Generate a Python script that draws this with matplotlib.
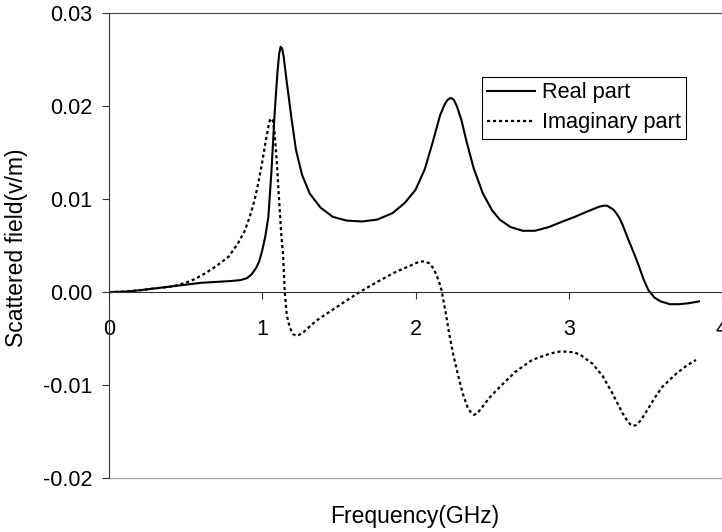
import numpy as np
import matplotlib
matplotlib.use("Agg")
import matplotlib.pyplot as plt
from matplotlib.ticker import FormatStrFormatter

plt.rcParams['font.family'] = ['Liberation Sans', 'DejaVu Sans']
plt.rcParams['axes.unicode_minus'] = False

# frequency (GHz) / field (v/m)
freq_real = [0.00, 0.10, 0.20, 0.30, 0.40, 0.50, 0.60, 0.70, 0.80, 0.86,
             0.90, 0.93, 0.96, 0.98, 1.00, 1.02, 1.04, 1.06, 1.07, 1.08,
             1.09, 1.10, 1.11, 1.12, 1.13, 1.14, 1.16, 1.19, 1.22, 1.26,
             1.31, 1.38, 1.46, 1.55, 1.65, 1.75, 1.85, 1.93, 2.00, 2.06,
             2.11, 2.16, 2.19, 2.21, 2.23, 2.25, 2.27, 2.30, 2.33, 2.38,
             2.44, 2.50, 2.55, 2.62, 2.70, 2.78, 2.87, 2.96, 3.04, 3.11,
             3.17, 3.20, 3.23, 3.25, 3.27, 3.29, 3.31, 3.33, 3.35, 3.39,
             3.43, 3.46, 3.49, 3.52, 3.56, 3.60, 3.66, 3.72, 3.78, 3.85]
real_part = [0.0000, 0.00005, 0.0002, 0.0004, 0.0006, 0.0008, 0.0010, 0.0011, 0.0012, 0.0013,
             0.0015, 0.0019, 0.0026, 0.0033, 0.0045, 0.0060, 0.0081, 0.0130, 0.0160, 0.0190,
             0.0215, 0.0238, 0.0256, 0.0264, 0.0262, 0.0253, 0.0226, 0.0188, 0.0153, 0.0126,
             0.0106, 0.0091, 0.0081, 0.0077, 0.0076, 0.0078, 0.0085, 0.0096, 0.0110, 0.0132,
             0.0160, 0.0190, 0.0202, 0.0207, 0.0209, 0.0207, 0.0200, 0.0185, 0.0164, 0.0133,
             0.0106, 0.0088, 0.0078, 0.0070, 0.0066, 0.0066, 0.0070, 0.0076, 0.0081, 0.0086,
             0.0090, 0.0092, 0.0093, 0.0093, 0.0091, 0.0089, 0.0085, 0.0080, 0.0073, 0.0056,
             0.0040, 0.0027, 0.0013, 0.0002, -0.0006, -0.0010, -0.0013, -0.0013, -0.0012, -0.0010]

freq_imag = [0.00, 0.10, 0.20, 0.30, 0.41, 0.50, 0.56, 0.625, 0.70, 0.78,
             0.84, 0.886, 0.92, 0.95, 0.975, 1.00, 1.02, 1.04, 1.05, 1.06,
             1.07, 1.08, 1.095, 1.11, 1.125, 1.136, 1.147, 1.16, 1.18, 1.20,
             1.22, 1.24, 1.27, 1.35, 1.45, 1.55, 1.635, 1.75, 1.874, 1.96,
             2.00, 2.03, 2.06, 2.09, 2.11, 2.13, 2.15, 2.17, 2.20, 2.22,
             2.25, 2.28, 2.31, 2.34, 2.36, 2.38, 2.40, 2.43, 2.48, 2.55,
             2.65, 2.76, 2.88, 2.94, 2.99, 3.04, 3.08, 3.155, 3.22, 3.285,
             3.35, 3.38, 3.40, 3.42, 3.44, 3.47, 3.52, 3.56, 3.61, 3.70,
             3.77, 3.83]
imag_part = [0.0, 0.00005, 0.0002, 0.0004, 0.0006, 0.0010, 0.0014, 0.0020, 0.0028, 0.0038,
             0.0052, 0.0066, 0.0082, 0.0099, 0.0118, 0.0140, 0.0160, 0.0178, 0.0185, 0.0187,
             0.0184, 0.0172, 0.0140, 0.0099, 0.0060, 0.0040, 0.0, -0.0025, -0.0038, -0.0045,
             -0.0047, -0.0046, -0.0043, -0.0031, -0.0020, -0.0009, 0.0, 0.0011, 0.0022, 0.0028,
             0.0031, 0.0033, 0.0033, 0.0031, 0.0027, 0.0021, 0.0013, 0.0002, -0.0025, -0.0045,
             -0.0070, -0.0091, -0.0110, -0.0124, -0.0129, -0.0132, -0.0131, -0.0125, -0.0114, -0.0102,
             -0.0086, -0.0073, -0.0066, -0.0064, -0.0064, -0.0065, -0.0068, -0.0077, -0.0090, -0.0109,
             -0.0130, -0.0138, -0.0142, -0.0144, -0.0143, -0.0138, -0.0125, -0.0114, -0.0102, -0.0088,
             -0.0079, -0.0073]

x_ticks = [0, 1, 2, 3, 4]
y_ticks = [-0.02, -0.01, 0.00, 0.01, 0.02, 0.03]

fig = plt.figure(figsize=(7.22, 5.32), dpi=100)
ax = fig.add_axes([109/722, 1 - 478/532, 1 - 109/722, (478 - 13.3)/532])

ax.plot(freq_real, real_part, color='black', lw=1.5, label='Real part')
ax.plot(freq_imag, imag_part, color='black', lw=1.6, linestyle=(0, (1.4, 1.3)),
        label='Imaginary part')

ax.set_xlim(0, 4)
ax.set_ylim(-0.02, 0.03)
ax.set_xticks(x_ticks)
ax.set_xticklabels([str(t) for t in x_ticks])
ax.set_yticks(y_ticks)
ax.yaxis.set_major_formatter(FormatStrFormatter('%.2f'))

ax.spines['right'].set_visible(False)
ax.spines['left'].set_color('#333333')
ax.spines['top'].set_color('#444444')
ax.spines['bottom'].set_position(('data', 0))
ax.spines['bottom'].set_color('#333333')
ax.axhline(-0.02, color='#aaaaaa', lw=1, clip_on=False, zorder=0)

ax.tick_params(axis='y', direction='out', length=5, width=0.8, pad=7,
               labelsize=15.5, color='#333333')
ax.tick_params(axis='x', direction='out', length=5, width=0.8, pad=14,
               labelsize=15.5, color='#333333')

fig.text(415/722, 1 - 516/532, 'Frequency(GHz)', ha='center', va='center', fontsize=16.5)
fig.text(17/722, 1 - 248/532, 'Scattered field(v/m)', ha='center', va='center',
         rotation=90, fontsize=16.5)

leg = ax.legend(loc='upper left', bbox_to_anchor=(481.7/722, 1 - 76.7/532),
                bbox_transform=fig.transFigure, borderaxespad=0, fontsize=15.7,
                fancybox=False, framealpha=1, edgecolor='black',
                handlelength=2.2, handletextpad=0.3, borderpad=0.25, labelspacing=0.42)
leg.get_frame().set_linewidth(0.8)

fig.savefig('out.png', dpi=100)
